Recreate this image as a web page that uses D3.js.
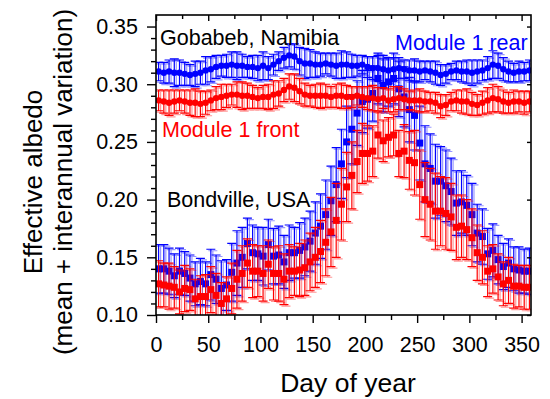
<!DOCTYPE html>
<html><head><meta charset="utf-8">
<script src="https://cdn.jsdelivr.net/npm/d3@7"></script>
<style>
body{margin:0;background:#fff}
svg{display:block}
text{font-family:"Liberation Sans",Arial,sans-serif}
</style>
</head><body>
<svg id="c" width="550" height="399"></svg>
<script>
// ---- data ----
const days = [2.5,7.5,12.5,17.5,22.5,27.5,32.5,37.5,42.5,47.5,52.5,57.5,62.5,67.5,72.5,77.5,82.5,87.5,92.5,97.5,102.5,107.5,112.5,117.5,122.5,127.5,132.5,137.5,142.5,147.5,152.5,157.5,162.5,167.5,172.5,177.5,182.5,187.5,192.5,197.5,202.5,207.5,212.5,217.5,222.5,227.5,232.5,237.5,242.5,247.5,252.5,257.5,262.5,267.5,272.5,277.5,282.5,287.5,292.5,297.5,302.5,307.5,312.5,317.5,322.5,327.5,332.5,337.5,342.5,347.5,352.5,357.5];

const bondRear = [0.140,0.140,0.138,0.134,0.138,0.136,0.132,0.127,0.129,0.127,
0.135,0.131,0.123,0.126,0.137,0.145,0.150,0.162,0.154,0.153,
0.151,0.161,0.151,0.152,0.146,0.154,0.154,0.156,0.159,0.164,
0.171,0.177,0.187,0.199,0.213,0.231,0.250,0.261,0.275,0.285,
0.287,0.292,0.305,0.299,0.302,0.305,0.296,0.289,0.278,0.273,
0.249,0.231,0.227,0.216,0.216,0.212,0.207,0.197,0.198,0.195,
0.187,0.171,0.168,0.153,0.156,0.148,0.142,0.145,0.140,0.139,
0.138,0.138];
const bondRearErr = [0.021,0.021,0.020,0.019,0.020,0.019,0.020,0.019,0.020,0.019,0.022,0.021,0.024,0.022,
0.025,0.028,0.026,0.022,0.024,0.023,0.025,0.022,0.024,0.025,0.023,0.024,0.022,0.024,0.025,0.026,0.027,
0.028,0.030,0.030,0.032,0.030,0.031,0.030,0.028,0.027,0.025,
0.024,0.022,0.023,0.021,0.022,0.024,0.026,0.028,
0.030,0.032,0.033,0.030,0.032,0.030,0.031,0.029,0.028,0.027,0.026,0.027,
0.025,0.024,0.022,0.023,0.021,0.020,0.021,0.019,0.020,0.019,0.020];

const bondFront = [0.127,0.126,0.125,0.124,0.120,0.123,0.122,0.114,0.116,0.116,
0.122,0.117,0.110,0.114,0.123,0.131,0.136,0.145,0.138,0.138,
0.136,0.144,0.136,0.136,0.131,0.138,0.138,0.139,0.141,0.146,
0.150,0.155,0.163,0.172,0.182,0.196,0.211,0.221,0.233,0.240,
0.240,0.242,0.256,0.251,0.254,0.256,0.240,0.242,0.234,0.232,
0.213,0.200,0.196,0.190,0.190,0.188,0.185,0.176,0.177,0.174,
0.167,0.154,0.150,0.138,0.140,0.133,0.127,0.130,0.125,0.125,
0.124,0.124];
const bondFrontErr = [0.020,0.019,0.020,0.018,0.019,0.020,0.018,0.017,0.018,0.019,0.020,0.019,0.018,0.019,
0.022,0.025,0.024,0.021,0.023,0.022,0.024,0.021,0.023,0.024,0.022,0.023,0.021,0.023,0.024,0.025,0.026,
0.027,0.029,0.030,0.032,0.031,0.030,0.029,0.027,0.026,0.024,
0.022,0.020,0.018,0.017,0.018,0.020,0.023,0.025,
0.028,0.030,0.032,0.031,0.033,0.030,0.031,0.029,0.028,0.027,0.026,0.025,
0.024,0.023,0.022,0.021,0.020,0.019,0.020,0.019,0.018,0.019,0.019];

const gobRear = [0.311,0.310,0.311,0.310,0.310,0.309,0.308,0.309,0.310,0.312,
0.313,0.315,0.316,0.316,0.317,0.316,0.316,0.315,0.315,0.314,
0.316,0.314,0.317,0.320,0.323,0.325,0.324,0.320,0.318,0.318,
0.317,0.317,0.318,0.317,0.316,0.317,0.317,0.316,0.316,0.317,
0.315,0.314,0.314,0.313,0.312,0.313,0.314,0.313,0.312,0.312,
0.311,0.312,0.311,0.310,0.308,0.309,0.311,0.312,0.311,0.311,
0.310,0.311,0.312,0.314,0.317,0.316,0.313,0.311,0.310,0.311,
0.311,0.312];
const gobRearErr = [0.008,0.009,0.010,0.012,0.011,0.010,0.009,0.011,0.010,0.012,
0.011,0.010,0.009,0.010,0.011,0.012,0.010,0.009,0.010,0.011,
0.012,0.010,0.009,0.008,0.009,0.010,0.011,0.012,0.013,0.012,
0.011,0.010,0.009,0.010,0.011,0.012,0.011,0.010,0.009,0.008,
0.009,0.010,0.011,0.012,0.011,0.010,0.009,0.008,0.009,0.010,
0.009,0.008,0.009,0.010,0.009,0.008,0.007,0.008,0.009,0.010,
0.011,0.010,0.009,0.010,0.012,0.011,0.010,0.009,0.008,0.009,
0.008,0.009];

const gobFront = [0.286,0.285,0.284,0.285,0.286,0.285,0.284,0.284,0.283,0.284,
0.286,0.288,0.289,0.290,0.291,0.291,0.290,0.290,0.289,0.288,
0.289,0.289,0.291,0.292,0.295,0.298,0.297,0.294,0.291,0.290,
0.290,0.290,0.290,0.289,0.290,0.290,0.289,0.289,0.290,0.289,
0.288,0.288,0.287,0.288,0.286,0.287,0.288,0.287,0.286,0.286,
0.286,0.285,0.285,0.284,0.281,0.282,0.285,0.286,0.285,0.285,
0.283,0.282,0.284,0.286,0.288,0.287,0.285,0.284,0.285,0.285,
0.284,0.285];
const gobFrontErr = [0.009,0.010,0.011,0.010,0.009,0.010,0.011,0.012,0.011,0.010,
0.009,0.010,0.011,0.010,0.009,0.011,0.012,0.011,0.010,0.009,
0.010,0.011,0.012,0.011,0.010,0.011,0.012,0.011,0.010,0.009,
0.010,0.011,0.010,0.009,0.010,0.011,0.010,0.009,0.008,0.009,
0.010,0.011,0.010,0.009,0.010,0.011,0.010,0.009,0.008,0.009,
0.010,0.009,0.008,0.009,0.010,0.009,0.008,0.009,0.010,0.011,
0.010,0.009,0.010,0.011,0.012,0.011,0.010,0.009,0.010,0.009,
0.010,0.009];

const xTicks = [0,50,100,150,200,250,300,350];
const xMinor = [25,75,125,175,225,275,325];
const yTicks = [0.10,0.15,0.20,0.25,0.30,0.35];
const yMinor = [0.11,0.12,0.13,0.14,0.16,0.17,0.18,0.19,0.21,0.22,0.23,0.24,0.26,0.27,0.28,0.29,0.31,0.32,0.33,0.34];

// ---- drawing ----
const BLUE = "#0000ff", RED = "#ff0000";
const svg = d3.select("#c");
const x = d3.scaleLinear().domain([0, 359]).range([156, 531]);
const y = d3.scaleLinear().domain([0.10, 0.36]).range([315, 15]);

svg.append("defs").append("clipPath").attr("id","clip")
  .append("rect").attr("x",156).attr("y",15).attr("width",375).attr("height",300);
const plot = svg.append("g").attr("clip-path","url(#clip)");

function series(vals, errs, color){
  const data = days.map((d,i)=>({d, v:vals[i], e:errs[i]}));
  const g = plot.append("g");
  function bars(dx, dy, op){
    g.append("g").attr("transform",`translate(${dx},${dy})`).attr("opacity",op)
      .attr("stroke",color).attr("stroke-width",1.2).attr("fill","none")
      .selectAll("path").data(data).join("path")
      .attr("d",p=>{const X=x(p.d), y1=y(p.v+p.e), y0=y(p.v-p.e);
        return `M${X},${y1}V${y0}M${X-4.5},${y1}H${X+4.5}M${X-4.5},${y0}H${X+4.5}`;});
  }
  bars(2,1.5,0.4);
  bars(0,0,1);
  return {g, data};
}
function squares(s, color){
  s.g.append("g").selectAll("rect").data(s.data).join("rect")
    .attr("x",p=>x(p.d)-3.5).attr("y",p=>y(p.v)-3.5).attr("width",7).attr("height",7).attr("fill",color);
}
function dots(s, color){
  s.g.append("path").datum(s.data)
    .attr("d", d3.line().x(p=>x(p.d)).y(p=>y(p.v)))
    .attr("stroke",color).attr("stroke-width",2.4).attr("fill","none");
  s.g.append("g").selectAll("circle").data(s.data).join("circle")
    .attr("cx",p=>x(p.d)).attr("cy",p=>y(p.v)).attr("r",3.2).attr("fill",color);
}

const bR = series(bondRear, bondRearErr, BLUE);
const bF = series(bondFront, bondFrontErr, RED);
squares(bR, BLUE);
squares(bF, RED);
const gR = series(gobRear, gobRearErr, BLUE);
dots(gR, BLUE);
const gF = series(gobFront, gobFrontErr, RED);
dots(gF, RED);

// ---- axes ----
const fs = "21.5px";
function style(g){ g.select(".domain").remove(); g.selectAll("line").attr("stroke","#000").attr("stroke-width",1.4); g.selectAll("text").style("font-size",fs).attr("fill","#000").style("font-family",'"Liberation Sans",Arial,sans-serif'); }

svg.append("g").attr("transform","translate(0,315)")
  .call(d3.axisBottom(x).tickValues(xTicks).tickSize(8).tickPadding(14).tickFormat(d3.format("d"))).call(style);
svg.append("g").attr("transform","translate(0,315)")
  .call(d3.axisBottom(x).tickValues(xMinor).tickSize(5).tickFormat("")).call(style);
svg.append("g").attr("transform","translate(0,15)")
  .call(d3.axisTop(x).tickValues(xTicks).tickSize(-6).tickFormat("")).call(style);
svg.append("g").attr("transform","translate(0,15)")
  .call(d3.axisTop(x).tickValues(xMinor).tickSize(-4).tickFormat("")).call(style);
svg.append("g").attr("transform","translate(156,0)")
  .call(d3.axisLeft(y).tickValues(yTicks).tickSize(9).tickPadding(9).tickFormat(d3.format(".2f"))).call(style);
svg.append("g").attr("transform","translate(156,0)")
  .call(d3.axisLeft(y).tickValues(yMinor).tickSize(5).tickFormat("")).call(style);
svg.append("g").attr("transform","translate(531,0)")
  .call(d3.axisRight(y).tickValues(yTicks).tickSize(-4).tickFormat("")).call(style);

svg.append("rect").attr("x",156).attr("y",15).attr("width",375).attr("height",300)
  .attr("fill","none").attr("stroke","#000").attr("stroke-width",1.6);

// ---- titles & labels ----
svg.append("text").attr("x",348).attr("y",392).attr("text-anchor","middle")
  .style("font-size","26.5px").text("Day of year");
svg.append("text").attr("transform","translate(42,182) rotate(-90)").attr("text-anchor","middle")
  .style("font-size","26px").text("Effective albedo");
svg.append("text").attr("transform","translate(72,182) rotate(-90)").attr("text-anchor","middle")
  .style("font-size","26px").text("(mean + interannual variation)");

svg.append("text").attr("x",160).attr("y",45).style("font-size",fs).attr("fill","#000").text("Gobabeb, Namibia");
svg.append("text").attr("x",395).attr("y",50).style("font-size",fs).attr("fill",BLUE).text("Module 1 rear");
svg.append("text").attr("x",162).attr("y",137).style("font-size",fs).attr("fill",RED).text("Module 1 front");
svg.append("text").attr("x",167).attr("y",207).style("font-size",fs).attr("fill","#000").text("Bondville, USA");
</script>
</body></html>
